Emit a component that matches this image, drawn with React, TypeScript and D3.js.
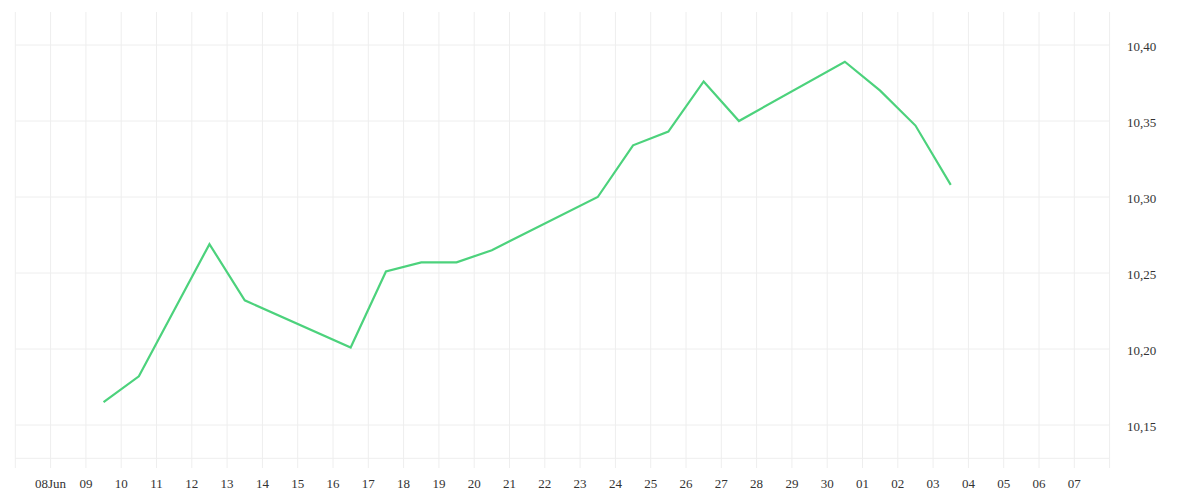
import React from "react";
import * as d3 from "d3";

const pointDates: string[] = [
  "2025-06-09", "2025-06-10", "2025-06-12", "2025-06-13", "2025-06-16",
  "2025-06-17", "2025-06-18", "2025-06-19", "2025-06-20", "2025-06-23",
  "2025-06-24", "2025-06-25", "2025-06-26", "2025-06-27", "2025-06-30",
  "2025-07-01", "2025-07-02", "2025-07-03",
];
const pointValues: number[] = [
  10.165, 10.182, 10.269, 10.232, 10.201,
  10.251, 10.257, 10.257, 10.265, 10.300,
  10.334, 10.343, 10.376, 10.350, 10.389,
  10.370, 10.347, 10.308,
];
const yTickValues: number[] = [10.15, 10.2, 10.25, 10.3, 10.35, 10.4];

const W = 1200;
const H = 500;
const left = 15.3;
const right = 1109.6;
const top = 12;
const bottom = 458.3;
const tickBottom = 468;

const parse = d3.utcParse("%Y-%m-%d");
const data = pointDates.map((d, i) => ({
  date: d3.utcHour.offset(parse(d) as Date, 12),
  value: pointValues[i],
}));

const x = d3
  .scaleUtc()
  .domain([new Date(Date.UTC(2025, 5, 7)), new Date(Date.UTC(2025, 6, 8))])
  .range([left, right]);
const y = d3.scaleLinear().domain([10.15, 10.4]).range([425, 45]);

const locale = d3.formatLocale({
  decimal: ",",
  thousands: ".",
  grouping: [3],
  currency: ["", "€"],
});
const fmtY = locale.format(".2f");

const dayTicks = d3.utcDay.range(x.domain()[0], d3.utcDay.offset(x.domain()[1], 1));
const labelFmt = (d: Date) => {
  if (d.getUTCDate() === 8 && d.getUTCMonth() === 5) return "08Jun";
  return d3.utcFormat("%d")(d);
};
const labelStart = new Date(Date.UTC(2025, 5, 8));
const labelEnd = new Date(Date.UTC(2025, 6, 7));

const line = d3
  .line<{ date: Date; value: number }>()
  .x((d) => x(d.date))
  .y((d) => y(d.value));

export default function App() {
  const grid = "#eeeeee";
  const textColor = "#333333";
  return (
    <svg
      width={W}
      height={H}
      style={{ position: "absolute", left: 0, top: 0, background: "#fff" }}
      fontFamily="serif"
    >
      {dayTicks.map((d, i) => (
        <line
          key={"v" + i}
          x1={x(d)}
          x2={x(d)}
          y1={top}
          y2={tickBottom}
          stroke={grid}
          strokeWidth={1}
        />
      ))}
      {yTickValues.map((v, i) => (
        <line
          key={"h" + i}
          x1={left}
          x2={right}
          y1={y(v)}
          y2={y(v)}
          stroke={grid}
          strokeWidth={1}
        />
      ))}
      <line x1={left} x2={right} y1={bottom} y2={bottom} stroke={grid} strokeWidth={1} />
      {dayTicks
        .filter((d) => d >= labelStart && d <= labelEnd)
        .map((d, i) => (
          <text
            key={"xl" + i}
            x={x(d)}
            y={483}
            textAnchor="middle"
            dominantBaseline="central"
            fontSize={13}
            fill={textColor}
          >
            {labelFmt(d)}
          </text>
        ))}
      {yTickValues.map((v, i) => (
        <text
          key={"yl" + i}
          x={1127}
          y={y(v) + 1.5}
          textAnchor="start"
          dominantBaseline="central"
          fontSize={13}
          fill={textColor}
        >
          {fmtY(v)}
        </text>
      ))}
      <path
        d={line(data) || ""}
        fill="none"
        stroke="#4cd27c"
        strokeWidth={2.2}
        strokeLinejoin="miter"
      />
    </svg>
  );
}
